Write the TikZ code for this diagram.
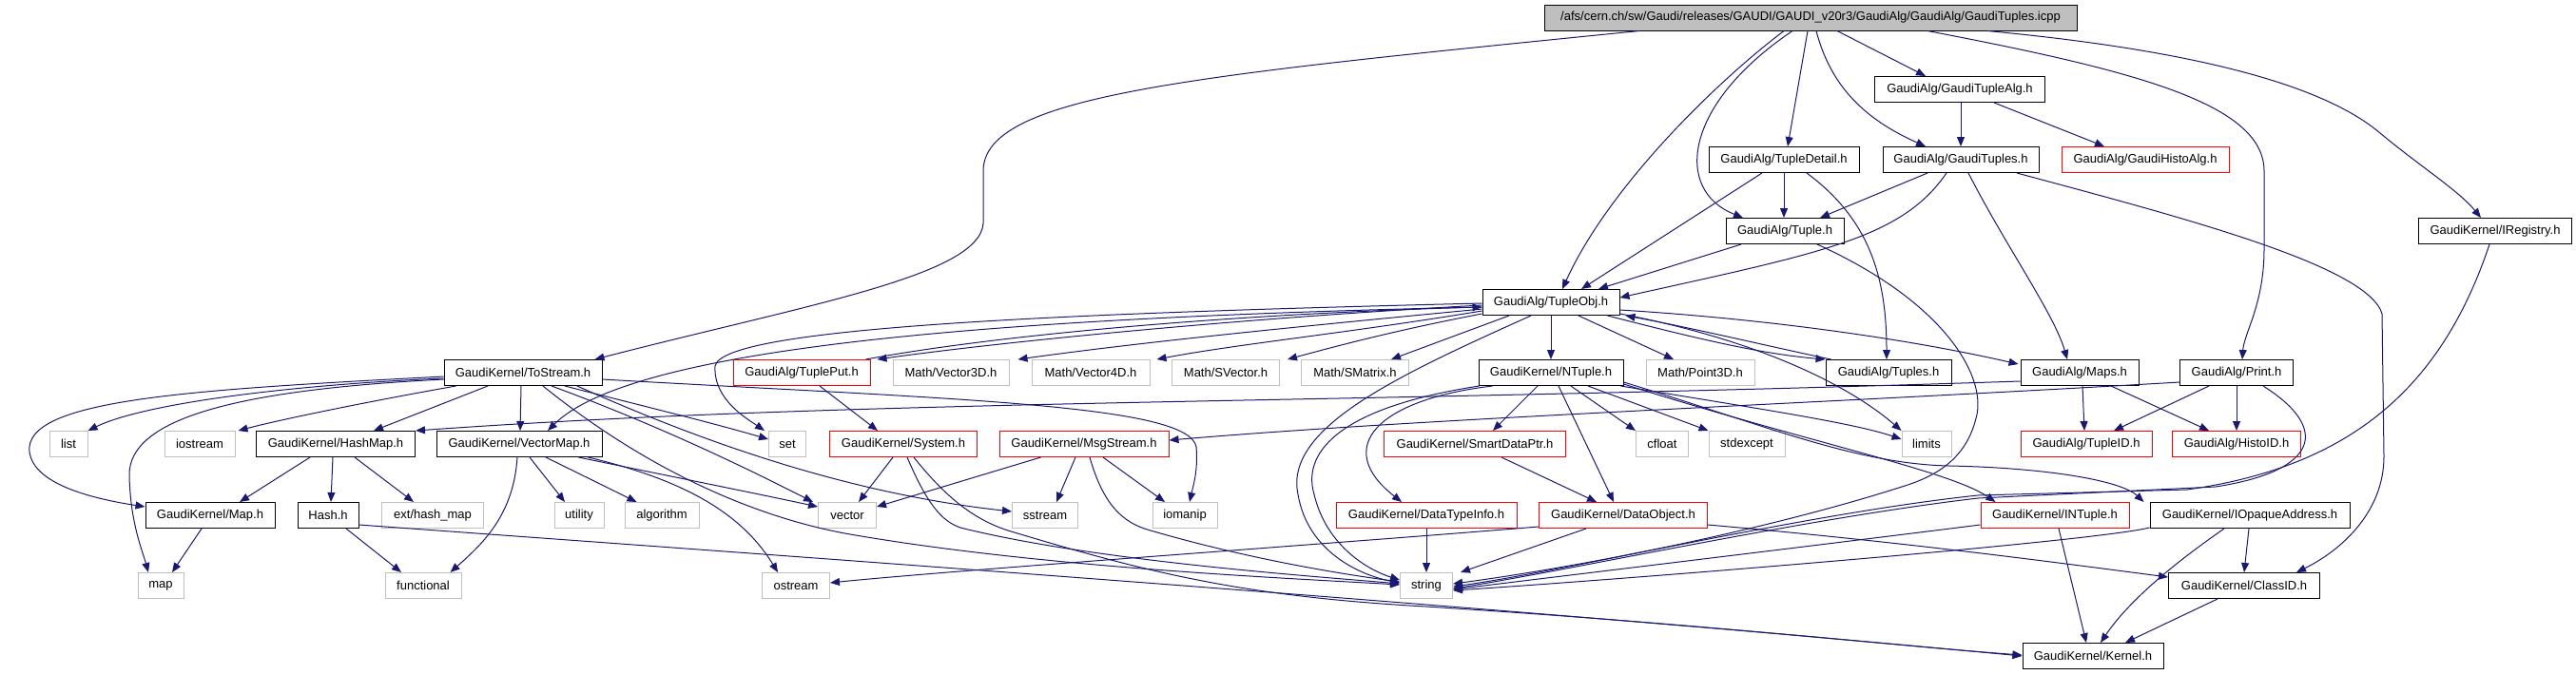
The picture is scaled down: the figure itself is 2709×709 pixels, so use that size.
\documentclass[tikz,border=0pt]{standalone}
\usepackage{fontspec}
\setmainfont{Liberation Sans}
\usetikzlibrary{arrows.meta,calc}
\definecolor{edgec}{HTML}{191970}
\definecolor{grayb}{HTML}{BFBFBF}
\tikzset{
  hdr/.style={draw=black, line width=0.5pt, rectangle, minimum height=13.5pt, inner sep=0pt, font=\fontsize{6.5}{8}\selectfont},
  redh/.style={hdr, draw=red},
  sysh/.style={hdr, draw=grayb},
  rooth/.style={hdr, fill=grayb},
  edge/.style={draw=edgec, line width=0.5pt, -{Triangle[length=5pt,width=4pt]}}
}
\begin{document}
\begin{tikzpicture}[x=0.5pt, y=-0.5pt]
\useasboundingbox (0,0) rectangle (2709,709);
% nodes
\node[rooth, minimum width=280pt] (root) at (1904,18.5) {/afs/cern.ch/sw/Gaudi/releases/GAUDI/GAUDI\_v20r3/GaudiAlg/GaudiAlg/GaudiTuples.icpp};
\node[hdr, minimum width=89.5pt] (GTA) at (2061,94) {GaudiAlg/GaudiTupleAlg.h};
\node[hdr, minimum width=79pt] (TD) at (1876,168) {GaudiAlg/TupleDetail.h};
\node[hdr, minimum width=82pt] (GT) at (2062,168) {GaudiAlg/GaudiTuples.h};
\node[redh, minimum width=88pt] (GHA) at (2256,168) {GaudiAlg/GaudiHistoAlg.h};
\node[hdr, minimum width=62pt] (Tuple) at (1877,243) {GaudiAlg/Tuple.h};
\node[hdr, minimum width=80.5pt] (IReg) at (2624,243) {GaudiKernel/IRegistry.h};
\node[hdr, minimum width=72pt] (TObj) at (1631,318) {GaudiAlg/TupleObj.h};
\node[hdr, minimum width=83pt] (ToS) at (550,392) {GaudiKernel/ToStream.h};
\node[redh, minimum width=72pt] (TPut) at (843,392) {GaudiAlg/TuplePut.h};
\node[sysh, minimum width=61pt] (V3) at (1000,392) {Math/Vector3D.h};
\node[sysh, minimum width=62pt] (V4) at (1147,392) {Math/Vector4D.h};
\node[sysh, minimum width=56.5pt] (SV) at (1289,392) {Math/SVector.h};
\node[sysh, minimum width=56.5pt] (SM) at (1425,392) {Math/SMatrix.h};
\node[hdr, minimum width=76pt] (NT) at (1631,392) {GaudiKernel/NTuple.h};
\node[sysh, minimum width=57pt] (P3) at (1788,392) {Math/Point3D.h};
\node[hdr, minimum width=66pt] (Tuples) at (1986,392) {GaudiAlg/Tuples.h};
\node[hdr, minimum width=62pt] (Maps) at (2187,392) {GaudiAlg/Maps.h};
\node[hdr, minimum width=59.5pt] (Print) at (2352,392) {GaudiAlg/Print.h};
\node[sysh, minimum width=20pt] (list) at (72,467) {list};
\node[sysh, minimum width=37pt] (iostream) at (210,467) {iostream};
\node[hdr, minimum width=83.5pt] (HashMap) at (353,467) {GaudiKernel/HashMap.h};
\node[hdr, minimum width=87pt] (VecMap) at (546,467) {GaudiKernel/VectorMap.h};
\node[sysh, minimum width=19.5pt] (set) at (828,467) {set};
\node[redh, minimum width=77.5pt] (System) at (950,467) {GaudiKernel/System.h};
\node[redh, minimum width=89pt] (Msg) at (1140,467) {GaudiKernel/MsgStream.h};
\node[redh, minimum width=95.5pt] (SDP) at (1551,467) {GaudiKernel/SmartDataPtr.h};
\node[sysh, minimum width=27.5pt] (cfloat) at (1748,467) {cfloat};
\node[sysh, minimum width=40pt] (stdexc) at (1837,467) {stdexcept};
\node[sysh, minimum width=26pt] (limits) at (2026,467) {limits};
\node[redh, minimum width=69pt] (TID) at (2194,467) {GaudiAlg/TupleID.h};
\node[redh, minimum width=67.5pt] (HID) at (2352,467) {GaudiAlg/HistoID.h};
\node[hdr, minimum width=68pt] (MapH) at (221,542) {GaudiKernel/Map.h};
\node[hdr, minimum width=32pt] (Hash) at (345,542) {Hash.h};
\node[sysh, minimum width=53.5pt] (exthm) at (455,542) {ext/hash\_map};
\node[sysh, minimum width=26pt] (utility) at (609,542) {utility};
\node[sysh, minimum width=39pt] (algo) at (696,542) {algorithm};
\node[sysh, minimum width=30.5pt] (vector) at (891,542) {vector};
\node[sysh, minimum width=34.5pt] (sstream) at (1099,542) {sstream};
\node[sysh, minimum width=34pt] (iomanip) at (1246,542) {iomanip};
\node[redh, minimum width=95pt] (DTI) at (1500,542) {GaudiKernel/DataTypeInfo.h};
\node[redh, minimum width=88.5pt] (DObj) at (1707,542) {GaudiKernel/DataObject.h};
\node[redh, minimum width=78pt] (INT) at (2161,542) {GaudiKernel/INTuple.h};
\node[hdr, minimum width=105pt] (IOA) at (2366,542) {GaudiKernel/IOpaqueAddress.h};
\node[sysh, minimum width=24pt] (map) at (169,616) {map};
\node[sysh, minimum width=40pt] (functional) at (445,616) {functional};
\node[sysh, minimum width=35.5pt] (ostream) at (837,616) {ostream};
\node[sysh, minimum width=27.5pt] (string) at (1500,616) {string};
\node[hdr, minimum width=79.5pt] (ClassID) at (2360,616) {GaudiKernel/ClassID.h};
\node[hdr, minimum width=74pt] (Kernel) at (2201,690) {GaudiKernel/Kernel.h};

% root edges
\draw[edge] ($(root.south)+(-180,0)$) .. controls (1250,80) and (1034,100) .. (1034,180) -- (1034,235) .. controls (1030,290) and (850,320) .. ($(ToS.north east)+(-8,0)$);
\draw[edge] ($(root.south)+(-28,0)$) .. controls (1800,90) and (1690,200) .. ($(TObj.north)+(12,0)$);
\draw[edge] ($(root.south)+(-19,0)$) .. controls (1770,110) and (1760,200) .. ($(Tuple.north)+(-44,0)$);
\draw[edge] ($(root.south)+(-3,0)$) -- ($(TD.north)+(4,0)$);
\draw[edge] ($(root.south)+(6,0)$) .. controls (1925,90) and (1960,125) .. ($(GT.north)+(-37,0)$);
\draw[edge] ($(root.south)+(28,0)$) -- ($(GTA.north)+(-36,0)$);
\draw[edge] ($(root.south)+(123,0)$) .. controls (2250,75) and (2381,110) .. (2381,180) -- (2381,262) .. controls (2381,320) and (2360,350) .. ($(Print.north)+(6,0)$);
\draw[edge] ($(root.south)+(186,0)$) .. controls (2330,55) and (2450,95) .. (2503,140) .. controls (2545,175) and (2585,200) .. ($(IReg.north)+(-15,0)$);
% GaudiTupleAlg
\draw[edge] ($(GTA.south)+(1,0)$) -- (GT.north);
\draw[edge] ($(GTA.south)+(36,0)$) -- ($(GHA.north)+(-43,0)$);
% TupleDetail
\draw[edge] ($(TD.south)+(-23,0)$) -- ($(TObj.north)+(32,0)$);
\draw[edge] (TD.south) -- ($(Tuple.north)+(-1,0)$);
\draw[edge] ($(TD.south)+(24,0)$) .. controls (1965,230) and (1984,290) .. ($(Tuples.north)+(-2,0)$);
% GaudiTuples
\draw[edge] ($(GT.south)+(-35,0)$) -- ($(Tuple.north)+(37,0)$);
\draw[edge] ($(GT.south)+(-15,0)$) .. controls (2000,250) and (1920,265) .. ($(TObj.east)+(0,-5)$);
\draw[edge] ($(GT.south)+(8,0)$) .. controls (2110,260) and (2160,330) .. ($(Maps.north)+(-13,0)$);
\draw[edge] ($(GT.south)+(59,0)$) .. controls (2300,230) and (2490,280) .. (2505,330) -- (2507,480) .. controls (2507,540) and (2460,580) .. ($(ClassID.north)+(55,0)$);
% Tuple
\draw[edge] ($(Tuple.south)+(-46,0)$) -- ($(TObj.north)+(50,0)$);
\draw[edge] ($(Tuple.south)+(34,0)$) .. controls (2050,320) and (2090,400) .. (2078,440) .. controls (2068,480) and (2040,500) .. (2000,512) .. controls (1850,560) and (1650,598) .. ($(string.east)+(0,-2)$);
% IRegistry
\draw[edge] ($(IReg.south)+(-6,0)$) .. controls (2570,400) and (2480,490) .. (2300,515) -- (2080,521) .. controls (1900,540) and (1650,600) .. ($(string.east)+(0,1)$);
% TupleObj
\draw[edge] (TObj.south) -- (NT.north);
\draw[edge] ($(TObj.south)+(29,0)$) -- ($(P3.north)+(-28,0)$);
\draw[edge] ($(TObj.south)+(-44,0)$) -- ($(SM.north east)+(-19,0)$);
\draw[edge] ($(TObj.south)+(-21,0)$) .. controls (1470,395) and (1350,450) .. (1365,520) .. controls (1375,580) and (1430,605) .. ($(string.west)+(0,-3)$);
\draw[edge] ($(TObj.south east)+(-13,0)$) .. controls (1780,355) and (1850,372) .. (Tuples.north west);
\draw[edge] ($(Tuples.north west)+(6,0)$) .. controls (1850,362) and (1780,345) .. ($(TObj.south east)+(6,0)$);
\draw[edge] ($(TObj.east)+(0,8)$) .. controls (1850,335) and (2000,355) .. ($(Maps.west)+(-2,-9)$);
\draw[edge] ($(TObj.south east)+(0,-2)$) .. controls (1860,360) and (1950,410) .. (limits.north west);
\draw[edge] ($(TObj.west)+(0,5)$) .. controls (1000,335) and (660,370) .. ($(VecMap.north)+(30,0)$);
\draw[edge] ($(TObj.west)+(0,3)$) .. controls (1300,335) and (1050,360) .. ($(TPut.north east)+(7,0)$);
\draw[edge] ($(TPut.north east)+(-5,0)$) .. controls (1050,352) and (1300,330) .. ($(TObj.west)+(0,5)$);
\draw[edge] ($(TObj.west)+(0,7)$) .. controls (1350,345) and (1200,360) .. ($(V3.north east)+(9,0)$);
\draw[edge] ($(TObj.west)+(0,9)$) .. controls (1420,350) and (1300,362) .. ($(V4.north east)+(7,0)$);
\draw[edge] ($(TObj.west)+(0,12)$) .. controls (1480,345) and (1420,360) .. ($(SV.north east)+(8,0)$);
\draw[edge] ($(TObj.west)+(0,1)$) .. controls (1100,330) and (760,345) .. (752,385) .. controls (750,420) and (785,440) .. ($(set.north west)+(-4,0)$);
% ToStream
\draw[edge] ($(ToS.west)+(0,6)$) .. controls (300,405) and (150,425) .. (list.north east);
\draw[edge] ($(ToS.south west)+(13,0)$) .. controls (400,420) and (300,440) .. ($(iostream.north east)+(3,0)$);
\draw[edge] ($(ToS.west)+(0,7)$) .. controls (250,410) and (135,440) .. (136,500) .. controls (137,550) and (150,580) .. ($(map.north)+(-13,0)$);
\draw[edge] ($(ToS.west)+(0,4)$) .. controls (200,410) and (25,420) .. (31,475) .. controls (35,510) and (100,525) .. ($(MapH.west)+(0,-9)$);
\draw[edge] ($(ToS.south)+(-37,0)$) -- ($(HashMap.north)+(40,0)$);
\draw[edge] ($(ToS.south)+(-2,0)$) -- ($(VecMap.north)+(1,0)$);
\draw[edge] ($(ToS.south)+(44,0)$) .. controls (680,428) and (750,445) .. ($(set.west)+(0,-5)$);
\draw[edge] ($(ToS.south)+(30,0)$) .. controls (700,450) and (800,500) .. ($(vector.north west)+(-5,0)$);
\draw[edge] ($(ToS.south)+(57,0)$) .. controls (750,470) and (900,520) .. ($(sstream.west)+(0,-4)$);
\draw[edge] ($(ToS.south)+(21,0)$) .. controls (700,510) and (820,550) .. (900,563) .. controls (1100,597) and (1350,608) .. ($(string.west)+(0,-1)$);
\draw[edge] ($(ToS.east)+(0,7)$) .. controls (1000,420) and (1250,425) .. (1258,470) .. controls (1260,495) and (1255,510) .. ($(iomanip.north)+(5,0)$);
% HashMap
\draw[edge] ($(HashMap.south)+(-27,0)$) -- ($(MapH.north)+(31,0)$);
\draw[edge] ($(HashMap.south)+(-3,0)$) -- ($(Hash.north)+(3,0)$);
\draw[edge] ($(HashMap.south)+(20,0)$) -- ($(exthm.north)+(-20,0)$);
% VectorMap
\draw[edge] ($(VecMap.south)+(11,0)$) -- ($(utility.north)+(-15,0)$);
\draw[edge] ($(VecMap.south)+(28,0)$) -- ($(algo.north west)+(13,0)$);
\draw[edge] ($(VecMap.south)+(-2,0)$) .. controls (540,540) and (510,570) .. ($(functional.north east)+(-12,0)$);
\draw[edge] ($(VecMap.south east)+(-25,0)$) .. controls (700,500) and (800,520) .. ($(vector.west)+(0,-9)$);
\draw[edge] ($(VecMap.south east)+(-15,0)$) .. controls (720,505) and (780,540) .. ($(ostream.north)+(-19,0)$);
% Map.h, Hash.h
\draw[edge] ($(MapH.south)+(-9,0)$) -- ($(map.north)+(12,0)$);
\draw[edge] ($(Hash.south)+(19,0)$) -- ($(functional.north)+(-23,0)$);
\draw[edge] ($(Hash.east)+(0,10)$) .. controls (900,590) and (1600,640) .. (Kernel.west);
% TuplePut, System, MsgStream
\draw[edge] ($(TPut.south)+(19,0)$) -- ($(System.north)+(-27,0)$);
\draw[edge] ($(System.south)+(-11,0)$) -- ($(vector.north)+(12,0)$);
\draw[edge] ($(System.south)+(4,0)$) .. controls (975,530) and (990,548) .. (1010,555) .. controls (1150,590) and (1380,606) .. ($(string.west)+(0,-2)$);
\draw[edge] ($(System.south)+(11,0)$) .. controls (1000,530) and (1030,548) .. (1060,558) .. controls (1200,600) and (1300,627) .. (1500,638) .. controls (1800,657) and (2000,680) .. ($(Kernel.west)+(0,-1)$);
\draw[edge] ($(Msg.south west)+(44,0)$) -- ($(vector.east)+(0,-9)$);
\draw[edge] ($(Msg.south)+(-9,0)$) -- ($(sstream.north)+(12,0)$);
\draw[edge] ($(Msg.south)+(20,0)$) -- ($(iomanip.north)+(-21,0)$);
\draw[edge] ($(Msg.south)+(6,0)$) .. controls (1160,530) and (1180,550) .. (1210,558) .. controls (1320,590) and (1420,605) .. ($(string.west)+(0,-4)$);
% Print
\draw[edge] ($(Print.west)+(0,10)$) .. controls (1900,425) and (1500,440) .. ($(Msg.east)+(0,-4)$);
\draw[edge] ($(Print.south)+(-29,0)$) -- ($(TID.north)+(29,0)$);
\draw[edge] (Print.south) -- (HID.north);
\draw[edge] ($(Print.south)+(28,0)$) .. controls (2450,450) and (2440,495) .. (2330,512) -- (2080,524) .. controls (1900,545) and (1650,600) .. ($(string.east)+(0,3)$);
% Maps
\draw[edge] ($(Maps.west)+(0,9)$) .. controls (1400,425) and (900,420) .. (HashMap.north east);
\draw[edge] ($(Maps.south)+(3,0)$) -- ($(TID.north)+(-2,0)$);
\draw[edge] ($(Maps.south)+(33,0)$) -- ($(HID.north)+(-29,0)$);
% NTuple
\draw[edge] ($(NT.south)+(-14,0)$) -- ($(SDP.north)+(19,0)$);
\draw[edge] ($(NT.south)+(8,0)$) -- ($(DObj.north)+(-10,0)$);
\draw[edge] ($(NT.south west)+(15,0)$) .. controls (1450,420) and (1400,470) .. ($(DTI.north)+(-26,0)$);
\draw[edge] ($(NT.south west)+(1,0)$) .. controls (1400,430) and (1370,480) .. (1382,520) .. controls (1395,575) and (1440,600) .. ($(string.west)+(0,-6)$);
\draw[edge] ($(NT.south)+(21,0)$) -- (cfloat.north west);
\draw[edge] ($(NT.south)+(39,0)$) -- (stdexc.north west);
\draw[edge] ($(NT.south east)+(-3,0)$) .. controls (1850,430) and (1950,445) .. ($(limits.west)+(0,-5)$);
\draw[edge] ($(NT.east)+(0,12)$) .. controls (1900,465) and (2050,495) .. ($(INT.north west)+(16,0)$);
\draw[edge] ($(NT.east)+(0,10)$) .. controls (1850,445) and (1950,488) .. (2050,490) .. controls (2150,492) and (2230,505) .. ($(IOA.north west)+(-6,0)$);
% data headers
\draw[edge] ($(SDP.south)+(28,0)$) -- ($(DObj.north)+(-28,0)$);
\draw[edge] (DTI.south) -- (string.north);
\draw[edge] ($(DObj.south)+(-39,0)$) -- ($(string.north east)+(8,0)$);
\draw[edge] ($(DObj.west)+(0,12)$) .. controls (1400,572) and (1000,600) .. ($(ostream.east)+(0,-3)$);
\draw[edge] ($(DObj.east)+(0,10)$) .. controls (2000,570) and (2150,590) .. ($(ClassID.west)+(0,-9)$);
% INTuple, IOpaqueAddress, ClassID
\draw[edge] ($(INT.south)+(4,0)$) -- ($(Kernel.north)+(-7,0)$);
\draw[edge] ($(INT.west)+(0,10)$) .. controls (1900,575) and (1650,605) .. ($(string.east)+(0,4)$);
\draw[edge] ($(IOA.south)+(-1,0)$) -- (ClassID.north);
\draw[edge] ($(IOA.south)+(-27,0)$) .. controls (2290,590) and (2240,630) .. ($(Kernel.north)+(8,0)$);
\draw[edge] ($(IOA.south west)+(0,-1)$) .. controls (2200,570) and (1700,610) .. ($(string.east)+(0,5)$);
\draw[edge] ($(ClassID.south)+(-28,0)$) -- ($(Kernel.north)+(34,0)$);
\end{tikzpicture}
\end{document}
